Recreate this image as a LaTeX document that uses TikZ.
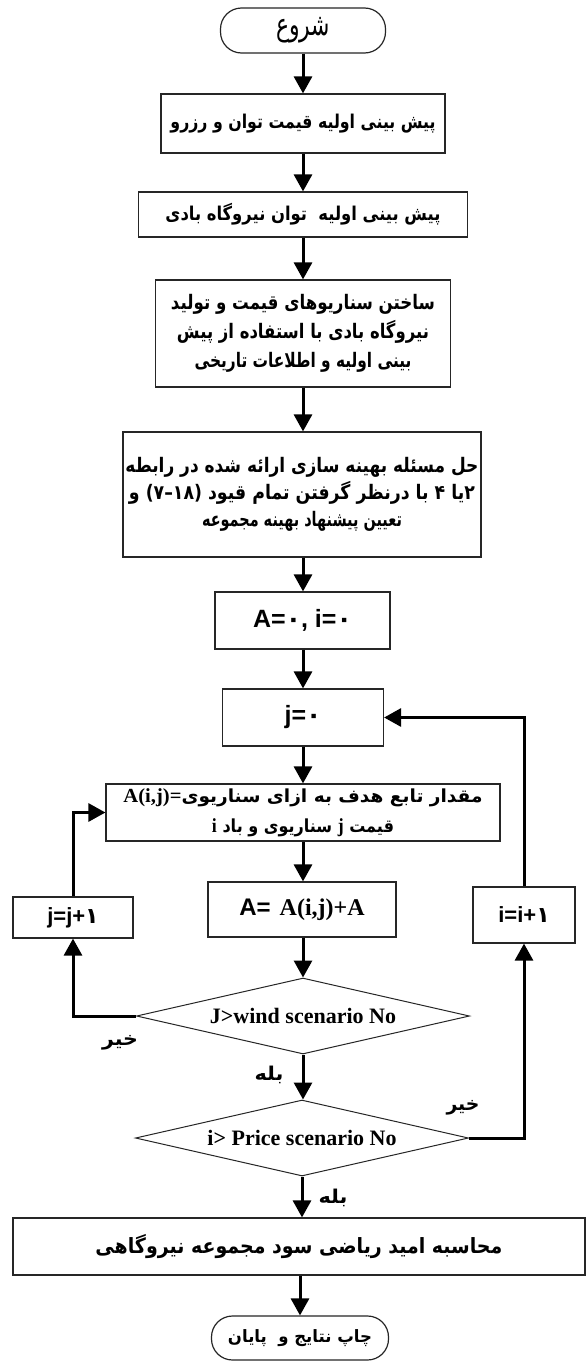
\documentclass[tikz,border=0pt]{standalone}
\usepackage{fontspec}
\usetikzlibrary{arrows.meta,shapes.geometric}
\TeXXeTstate=1
\newfontfamily\fa[Script=Arabic]{DejaVu Sans}
\newfontfamily\fanum{DejaVu Sans}
\newfontfamily\lsans{Liberation Sans}
\newfontfamily\lserif{Liberation Serif}
\newcommand\fsz[2]{\fontsize{#1pt}{#2pt}\selectfont}
\newcommand\fw[2]{\resizebox{#1pt}{\height}{#2}}
\begin{document}
\begin{tikzpicture}[x=1pt,y=-1pt,
  box/.style={draw=black!85, line width=1.2pt, rectangle, inner sep=0pt, align=center},
  term/.style={box, rounded corners=21pt},
  dec/.style={draw=black!85, line width=1pt, diamond, inner sep=0pt, aspect=4.4},
  conn/.style={line width=3pt, -{Triangle[length=17pt,width=18pt]}},
  lab/.style={inner sep=0pt, font={\fa\bfseries\fsz{19}{19}}}]
\useasboundingbox (0,0) rectangle (586,1365);
\fill[white] (0,0) rectangle (586,1365);

\node[term, minimum width=165pt, minimum height=45pt, font={\fa\fsz{31}{31}}] (start) at (303,30.5) {\fw{54}{\beginR شروع\endR}};
\node[box, minimum width=284pt, minimum height=59pt, font={\fa\bfseries\fsz{19}{28}}] (b1) at (303,123.5) {\fw{265}{\beginR پیش بینی اولیه قیمت توان و رزرو\endR}};
\node[box, minimum width=329pt, minimum height=45pt, font={\fa\bfseries\fsz{19}{28}}] (b2) at (303,214.5) {\fw{275}{\beginR پیش بینی اولیه\ \ توان نیروگاه بادی\endR}};
\node[box, minimum width=295pt, minimum height=107pt, font={\fa\bfseries\fsz{20}{29}}] (b3) at (303,333.5) {\fw{264}{\beginR ساختن سناریوهای قیمت و تولید\endR}\\\fw{252}{\beginR نیروگاه بادی با استفاده از پیش\endR}\\\fw{217}{\beginR بینی اولیه و اطلاعات تاریخی\endR}};
\node[box, minimum width=358pt, minimum height=125pt, font={\fa\bfseries\fsz{20}{27}}] (b4) at (302,494.5) {\fw{353}{\beginR حل مسئله بهینه سازی ارائه شده در رابطه\endR}\\\fw{346}{\beginR ۲یا ۴ با درنظر گرفتن تمام قیود \hbox{\fanum)\kern0pt۱۸\kern0pt–\kern0pt۷\kern0pt(} و\endR}\\\fw{200}{\beginR تعیین پیشنهاد بهینه مجموعه\endR}};
\node[box, minimum width=175pt, minimum height=57pt, font={\bfseries\fsz{25}{25}}] (b5) at (302.5,620.5) {{\lsans A=}{\fa ۰}{\lsans , i=}{\fa ۰}};
\node[box, minimum width=161pt, minimum height=57pt, font={\bfseries\fsz{25}{25}}] (b6) at (303,717.5) {{\lsans j=}{\fa ۰}};
\node[box, minimum width=394pt, minimum height=57pt, font={\fa\bfseries\fsz{18}{30}}] (b7) at (303,812.5) {\fw{359}{\beginR مقدار تابع هدف به ازای سناریوی\hbox{\lserif\fsz{20}{30}A(i,j)=}\endR}\\\fw{182}{\beginR قیمت \hbox{\lserif\fsz{20}{30}j} سناریوی و باد \hbox{\lserif\fsz{20}{30}i}\endR}};
\node[box, minimum width=188pt, minimum height=55pt, font={\bfseries\fsz{24}{24}}] (b8) at (302,909.5) {{\lsans A=} {\lserif A(i,j)+A}};
\node[box, minimum width=120pt, minimum height=41pt, font={\bfseries\fsz{22}{22}}] (jb) at (73,917.5) {{\lsans j=j+}{\fa ۱}};
\node[box, minimum width=102pt, minimum height=56pt, font={\bfseries\fsz{22}{22}}] (ib) at (524,915) {{\lsans i=i+}{\fa ۱}};
\node[dec, minimum width=333pt, minimum height=76pt, font={\lserif\bfseries\fsz{22}{22}}] (d1) at (303,1016) {J>wind scenario No};
\node[dec, minimum width=333pt, minimum height=76pt, font={\lserif\bfseries\fsz{22}{22}}] (d2) at (302,1138) {i> Price scenario No};
\node[box, minimum width=572pt, minimum height=57pt, font={\fa\bfseries\fsz{21}{21}}] (b9) at (299,1246.5) {\fw{407}{\beginR محاسبه امید ریاضی سود مجموعه نیروگاهی\endR}};
\node[term, minimum width=177pt, minimum height=44pt, font={\fa\bfseries\fsz{17}{17}}] (end) at (300,1338) {\fw{144}{\beginR چاپ نتایج و\ \ پایان\endR}};

\node[lab] (no1) at (120,1043) {\fw{36}{\beginR خیر\endR}};
\node[lab] (yes1) at (269,1075) {\fw{29}{\beginR بله\endR}};
\node[lab] (no2) at (463,1108) {\fw{33}{\beginR خیر\endR}};
\node[lab] (yes2) at (333,1198) {\fw{29}{\beginR بله\endR}};

\draw[conn] (start.south) -- (start.south |- b1.north);
\draw[conn] (b1.south) -- (b1.south |- b2.north);
\draw[conn] (b2.south) -- (b2.south |- b3.north);
\draw[conn] (b3.south) -- (b3.south |- b4.north);
\draw[conn] (b4.south -| b3.south) -- (b3.south |- b5.north);
\draw[conn] (b5.south -| b3.south) -- (b3.south |- b6.north);
\draw[conn] (b6.south) -- (b6.south |- b7.north);
\draw[conn] (b7.south) -- (b7.south |- b8.north);
\draw[conn] (b8.south -| d1.north) -- (d1.north);
\draw[conn] (d1.south) -- (d1.south |- d2.north);
\draw[conn] (d2.south) -- (d2.south |- b9.north);
\draw[conn] (b9.south -| end.north) -- (end.north);
\draw[conn] (d1.west) -| (jb.south);
\draw[conn] (jb.north) |- (b7.west);
\draw[conn] (d2.east) -| (ib.south);
\draw[conn] (ib.north) |- (b6.east);
\end{tikzpicture}
\end{document}
